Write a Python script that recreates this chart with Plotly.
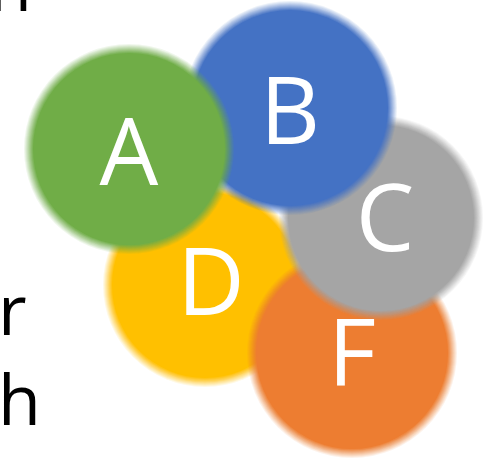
import plotly.graph_objects as go

# circle data (pixel-space data coordinates)
labels = ["D", "F", "C", "B", "A"]            # bottom to top drawing order
cx = [205, 352, 381, 290, 129]
cy = [285, 353, 218, 108, 149]
radius = [97, 100, 97, 102, 100]
colors = ["#FFC000", "#ED7D31", "#A5A5A5", "#4472C4", "#70AD47"]
label_x = [211, 352, 385, 290, 129]
label_y = [292, 363, 228, 121, 162]

# partial words on the left edge
side_text = ["n", "r", "h"]
side_x = [-13, -4, -4]
side_baseline = [11, 335, 425]

W, H = 492, 459

fig = go.Figure()
shapes = []
n_layers = 10
for x0, y0, r, c in zip(cx, cy, radius, colors):
    for j in range(1, n_layers + 1):
        rr = r + 5 - (j - 1)
        op = 1.0 / (n_layers + 1 - j)
        shapes.append(dict(type="circle", xref="x", yref="y",
                           x0=x0 - rr, x1=x0 + rr, y0=y0 - rr, y1=y0 + rr,
                           fillcolor=c, opacity=op, line=dict(width=0),
                           layer="below"))

fig.add_trace(go.Scatter(x=label_x, y=label_y, text=labels, mode="text",
                         textposition="middle center",
                         textfont=dict(family="Open Sans", size=93, color="white"),
                         hoverinfo="skip", showlegend=False))

annotations = []
for t, xs, yb in zip(side_text, side_x, side_baseline):
    annotations.append(dict(x=0, y=yb, xref="x", yref="y", text=t,
                            showarrow=False, xanchor="left", yanchor="bottom",
                            xshift=xs, yshift=-23,
                            font=dict(family="Open Sans", size=70, color="black")))

fig.update_layout(
    width=W, height=H, margin=dict(l=0, r=0, t=0, b=0),
    paper_bgcolor="white", plot_bgcolor="white",
    shapes=shapes, annotations=annotations,
    xaxis=dict(range=[0, W], visible=False, fixedrange=True),
    yaxis=dict(range=[H, 0], visible=False, fixedrange=True),
    showlegend=False,
)
fig.write_html("out.html", config={"displayModeBar": False},
               post_script="document.body.style.margin='0';")
